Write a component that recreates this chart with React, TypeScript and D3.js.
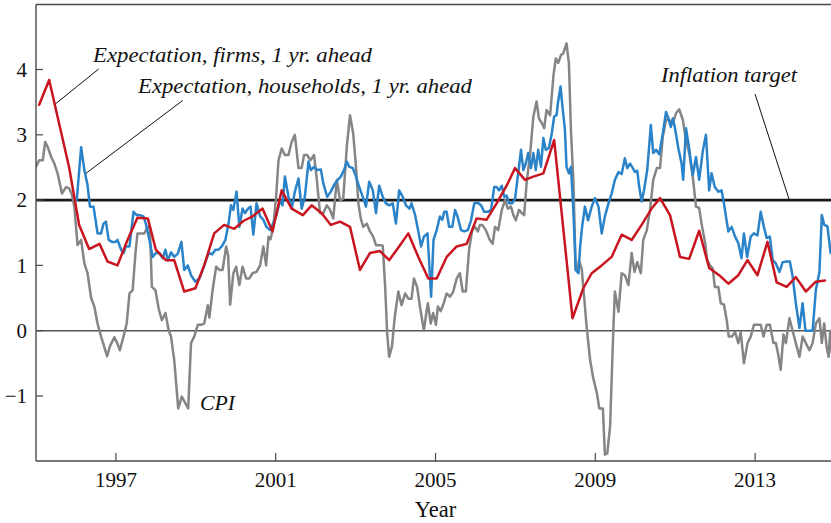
import React from "react";
import * as d3 from "d3";

// CPI inflation (monthly, % y/y) — [year, value]
const cpi: [number, number][] = [
  [1995.0, 2.51], [1995.08, 2.61], [1995.17, 2.61], [1995.23, 2.89], [1995.29, 2.82], [1995.38, 2.66],
  [1995.46, 2.56], [1995.54, 2.41], [1995.65, 2.1], [1995.75, 2.2], [1995.83, 2.18], [1995.9, 2.08],
  [1995.96, 1.9], [1996.04, 1.31], [1996.13, 1.39], [1996.21, 1.03], [1996.29, 0.88], [1996.38, 0.5],
  [1996.46, 0.37], [1996.54, 0.11], [1996.63, -0.09], [1996.78, -0.39], [1996.85, -0.24], [1996.96, -0.1],
  [1997.02, -0.17], [1997.1, -0.3], [1997.19, -0.09], [1997.27, 0.11], [1997.34, 0.57], [1997.42, 0.62],
  [1997.49, 1.19], [1997.54, 1.49], [1997.63, 1.49], [1997.71, 1.49], [1997.8, 1.59], [1997.85, 1.59],
  [1997.9, 0.67], [1997.99, 0.62], [1998.07, 0.34], [1998.15, 0.16], [1998.24, 0.27], [1998.32, 0.01],
  [1998.38, -0.09], [1998.46, -0.45], [1998.56, -1.19], [1998.65, -1.01], [1998.73, -1.1], [1998.81, -1.19],
  [1998.88, -0.19], [1998.96, -0.09], [1999.05, 0.09], [1999.13, 0.09], [1999.21, 0.11], [1999.3, 0.39],
  [1999.34, 0.2], [1999.42, 0.62], [1999.51, 0.98], [1999.59, 0.93], [1999.67, 0.93], [1999.76, 1.29],
  [1999.81, 1.15], [1999.86, 0.4], [1999.94, 0.88], [2000.01, 0.98], [2000.09, 0.7], [2000.17, 0.98],
  [2000.26, 0.8], [2000.34, 0.8], [2000.42, 0.88], [2000.52, 0.9], [2000.61, 1.0], [2000.69, 1.29],
  [2000.76, 1.0], [2000.82, 1.44], [2000.87, 1.4], [2000.94, 1.59], [2001.01, 2.05], [2001.07, 2.61],
  [2001.15, 2.79], [2001.23, 2.69], [2001.32, 2.69], [2001.4, 2.89], [2001.48, 3.0], [2001.57, 2.49],
  [2001.65, 2.49], [2001.71, 2.69], [2001.79, 2.69], [2001.87, 2.61], [2001.96, 2.69], [2002.03, 2.31],
  [2002.11, 1.8], [2002.19, 1.8], [2002.28, 1.92], [2002.36, 1.85], [2002.44, 1.72], [2002.53, 2.31],
  [2002.61, 2.0], [2002.69, 2.02], [2002.78, 2.82], [2002.86, 3.3], [2002.94, 3.02], [2003.01, 2.51],
  [2003.07, 1.95], [2003.13, 1.72], [2003.19, 1.59], [2003.28, 1.64], [2003.36, 1.52], [2003.44, 1.44],
  [2003.51, 1.31], [2003.61, 1.31], [2003.68, 1.3], [2003.74, 0.67], [2003.79, -0.04], [2003.84, -0.4],
  [2003.91, -0.24], [2003.98, 0.21], [2004.07, 0.6], [2004.15, 0.39], [2004.24, 0.57], [2004.32, 0.49],
  [2004.4, 0.49], [2004.46, 0.8], [2004.54, 0.67], [2004.61, 0.37], [2004.71, 0.0], [2004.78, 0.32],
  [2004.81, 0.42], [2004.88, 0.11], [2004.94, 0.27], [2005.01, 0.09], [2005.06, 0.37], [2005.13, 0.3],
  [2005.21, 0.43], [2005.28, 0.57], [2005.36, 0.52], [2005.44, 0.59], [2005.53, 0.8], [2005.61, 0.88],
  [2005.68, 0.6], [2005.76, 0.6], [2005.84, 1.24], [2005.92, 1.54], [2005.99, 1.59], [2006.06, 1.52],
  [2006.11, 1.62], [2006.17, 1.62], [2006.26, 1.54], [2006.36, 1.39], [2006.43, 1.33], [2006.49, 1.59],
  [2006.57, 1.54], [2006.66, 1.85], [2006.74, 2.0], [2006.81, 1.87], [2006.89, 1.9], [2006.95, 1.77],
  [2007.01, 1.69], [2007.09, 1.85], [2007.16, 1.8], [2007.22, 1.77], [2007.28, 2.26], [2007.37, 2.72],
  [2007.45, 3.28], [2007.53, 3.51], [2007.59, 3.25], [2007.66, 3.18], [2007.72, 3.1], [2007.78, 3.38],
  [2007.87, 3.3], [2007.95, 3.89], [2008.01, 4.17], [2008.07, 4.1], [2008.14, 4.22], [2008.2, 4.25],
  [2008.28, 4.4], [2008.34, 4.09], [2008.39, 3.07], [2008.45, 2.31], [2008.51, 0.93], [2008.56, 0.9],
  [2008.59, 1.07], [2008.66, 0.95], [2008.72, 0.52], [2008.78, 0.08], [2008.87, -0.45], [2008.94, -0.7],
  [2009.04, -0.96], [2009.1, -1.19], [2009.19, -1.19], [2009.24, -1.9], [2009.3, -1.88], [2009.37, -1.47],
  [2009.45, 0.0], [2009.49, 0.6], [2009.58, 0.29], [2009.66, 0.88], [2009.74, 0.85], [2009.83, 0.7],
  [2009.91, 1.19], [2009.98, 0.9], [2010.05, 1.05], [2010.14, 0.88], [2010.2, 1.39], [2010.29, 1.54],
  [2010.37, 1.85], [2010.45, 2.31], [2010.54, 2.49], [2010.62, 2.49], [2010.69, 2.97], [2010.77, 3.23],
  [2010.85, 3.23], [2010.94, 3.17], [2011.02, 3.33], [2011.1, 3.39], [2011.19, 3.23], [2011.27, 2.92],
  [2011.35, 2.72], [2011.44, 2.36], [2011.52, 1.9], [2011.6, 1.88], [2011.66, 1.64], [2011.75, 1.34],
  [2011.8, 1.08], [2011.87, 1.0], [2011.94, 0.95], [2011.99, 0.67], [2012.08, 0.67], [2012.14, 0.42],
  [2012.22, 0.4], [2012.29, 0.16], [2012.34, -0.09], [2012.42, -0.09], [2012.5, -0.02], [2012.58, -0.19],
  [2012.64, -0.02], [2012.72, -0.5], [2012.81, -0.19], [2012.89, -0.09], [2012.97, 0.09], [2013.06, 0.09],
  [2013.14, 0.09], [2013.21, -0.09], [2013.29, 0.09], [2013.37, 0.09], [2013.46, -0.19], [2013.52, -0.19],
  [2013.58, -0.37], [2013.64, -0.6], [2013.71, -0.06], [2013.77, -0.19], [2013.86, 0.19], [2013.94, 0.0],
  [2014.02, -0.19], [2014.11, -0.4], [2014.19, -0.09], [2014.27, -0.19], [2014.36, -0.3], [2014.44, -0.19],
  [2014.52, 0.11], [2014.61, 0.19], [2014.67, -0.19], [2014.73, 0.11], [2014.79, -0.25], [2014.84, -0.4],
  [2014.88, 0.0], [2014.92, -0.34],
];

// Households' expected inflation, 1 yr. ahead (monthly)
const households: [number, number][] = [
  [1996.02, 2.0], [1996.13, 2.81], [1996.21, 2.46], [1996.29, 2.23], [1996.35, 1.9], [1996.44, 1.9],
  [1996.49, 1.7], [1996.54, 1.49], [1996.63, 1.49], [1996.69, 1.64], [1996.75, 1.67], [1996.82, 1.39],
  [1996.9, 1.36], [1996.99, 1.36], [1997.04, 1.39], [1997.13, 1.24], [1997.19, 1.19], [1997.25, 1.29],
  [1997.34, 1.29], [1997.44, 1.82], [1997.52, 1.77], [1997.6, 1.77], [1997.69, 1.75], [1997.75, 1.64],
  [1997.84, 1.39], [1997.92, 1.13], [1998.0, 1.19], [1998.09, 1.19], [1998.17, 1.11], [1998.24, 1.24],
  [1998.3, 1.08], [1998.38, 1.2], [1998.46, 1.13], [1998.55, 1.18], [1998.64, 1.36], [1998.71, 0.93],
  [1998.8, 1.0], [1998.88, 0.85], [1998.99, 0.75], [1999.09, 0.8], [1999.17, 0.93], [1999.26, 1.08],
  [1999.32, 1.19], [1999.41, 1.17], [1999.49, 1.24], [1999.57, 1.24], [1999.66, 1.3], [1999.74, 1.39],
  [1999.82, 1.64], [1999.88, 1.92], [1999.94, 1.85], [2000.02, 2.13], [2000.09, 1.59], [2000.17, 1.87],
  [2000.23, 1.8], [2000.31, 1.87], [2000.37, 1.9], [2000.44, 1.47], [2000.52, 1.95], [2000.61, 1.75],
  [2000.69, 1.7], [2000.77, 1.59], [2000.86, 1.54], [2000.94, 1.65], [2001.02, 1.77], [2001.11, 2.0],
  [2001.17, 1.92], [2001.23, 2.36], [2001.32, 2.05], [2001.4, 1.87], [2001.48, 2.13], [2001.57, 2.33],
  [2001.65, 1.87], [2001.73, 2.05], [2001.82, 2.59], [2001.88, 2.46], [2001.96, 2.51], [2002.04, 2.46],
  [2002.13, 2.47], [2002.19, 2.26], [2002.29, 2.05], [2002.38, 2.13], [2002.46, 2.23], [2002.54, 2.3],
  [2002.63, 2.36], [2002.71, 2.46], [2002.78, 2.59], [2002.84, 2.51], [2002.93, 2.49], [2003.01, 2.36],
  [2003.09, 2.2], [2003.18, 2.05], [2003.26, 1.9], [2003.34, 2.28], [2003.43, 2.15], [2003.51, 1.8],
  [2003.59, 2.22], [2003.68, 2.05], [2003.76, 1.95], [2003.84, 1.92], [2003.93, 1.95], [2004.01, 1.64],
  [2004.09, 2.15], [2004.18, 2.05], [2004.26, 1.92], [2004.35, 1.87], [2004.4, 1.95], [2004.49, 1.77],
  [2004.57, 1.52], [2004.64, 1.29], [2004.71, 1.44], [2004.8, 1.49], [2004.89, 0.52], [2004.95, 1.39],
  [2005.03, 1.54], [2005.11, 1.75], [2005.17, 1.7], [2005.22, 1.82], [2005.28, 1.82], [2005.34, 1.59],
  [2005.42, 1.59], [2005.49, 1.85], [2005.55, 1.75], [2005.64, 1.54], [2005.72, 1.52], [2005.81, 1.54],
  [2005.89, 1.69], [2005.97, 1.95], [2006.06, 1.96], [2006.14, 1.92], [2006.22, 1.82], [2006.31, 1.82],
  [2006.39, 1.85], [2006.47, 2.2], [2006.53, 2.2], [2006.59, 2.15], [2006.66, 2.22], [2006.72, 2.05],
  [2006.78, 2.07], [2006.84, 1.95], [2006.92, 1.95], [2006.99, 2.02], [2007.09, 2.51], [2007.14, 2.77],
  [2007.2, 2.46], [2007.26, 2.56], [2007.32, 2.72], [2007.39, 2.49], [2007.45, 2.72], [2007.51, 2.46],
  [2007.57, 2.77], [2007.64, 2.51], [2007.7, 2.95], [2007.76, 2.77], [2007.84, 2.8], [2007.91, 3.02],
  [2007.97, 3.28], [2008.03, 3.3], [2008.07, 3.51], [2008.13, 3.74], [2008.17, 3.48], [2008.24, 3.07],
  [2008.28, 2.51], [2008.34, 2.41], [2008.39, 2.51], [2008.45, 1.85], [2008.51, 0.93], [2008.58, 0.88],
  [2008.62, 1.29], [2008.67, 1.59], [2008.74, 1.9], [2008.82, 1.69], [2008.91, 1.9], [2008.99, 2.03],
  [2009.08, 1.9], [2009.16, 1.49], [2009.24, 1.75], [2009.33, 1.95], [2009.41, 2.1], [2009.49, 2.31],
  [2009.58, 2.43], [2009.66, 2.4], [2009.74, 2.64], [2009.8, 2.49], [2009.87, 2.56], [2009.94, 2.49],
  [2009.99, 2.43], [2010.05, 2.45], [2010.1, 2.2], [2010.16, 1.98], [2010.22, 2.15], [2010.3, 2.46],
  [2010.39, 3.15], [2010.45, 2.72], [2010.52, 2.77], [2010.6, 2.7], [2010.69, 3.02], [2010.77, 3.35],
  [2010.83, 3.25], [2010.89, 3.12], [2010.94, 3.25], [2010.99, 3.12], [2011.08, 2.79], [2011.16, 2.56],
  [2011.2, 2.31], [2011.27, 3.1], [2011.35, 2.79], [2011.44, 2.38], [2011.52, 2.66], [2011.6, 2.31],
  [2011.69, 2.75], [2011.77, 3.0], [2011.85, 2.15], [2011.91, 2.41], [2011.99, 2.2], [2012.08, 2.13],
  [2012.16, 2.15], [2012.22, 1.95], [2012.27, 1.75], [2012.33, 1.52], [2012.41, 1.59], [2012.5, 1.44],
  [2012.58, 1.34], [2012.66, 1.11], [2012.72, 1.49], [2012.8, 1.13], [2012.89, 1.44], [2012.97, 1.49],
  [2013.06, 1.46], [2013.14, 1.82], [2013.22, 1.59], [2013.29, 1.42], [2013.37, 1.44], [2013.44, 1.08],
  [2013.52, 1.03], [2013.61, 0.9], [2013.69, 1.05], [2013.79, 1.06], [2013.87, 1.06], [2013.94, 0.83],
  [2014.02, 0.42], [2014.11, 0.04], [2014.19, 0.42], [2014.26, 0.0], [2014.34, 0.0], [2014.44, 0.0],
  [2014.52, 0.62], [2014.61, 0.9], [2014.67, 1.77], [2014.73, 1.62], [2014.81, 1.6], [2014.89, 1.19],
];

// Firms' expected inflation, 1 yr. ahead (quarterly)
const firms: [number, number][] = [
  [1995.08, 3.46], [1995.33, 3.84], [1995.58, 3.17], [1995.83, 2.5], [1996.08, 1.62], [1996.33, 1.25],
  [1996.59, 1.33], [1996.79, 1.06], [1997.04, 1.0], [1997.29, 1.39], [1997.54, 1.73], [1997.8, 1.72],
  [1998.0, 1.24], [1998.25, 1.08], [1998.46, 1.08], [1998.71, 0.6], [1998.99, 0.65], [1999.21, 1.0],
  [1999.46, 1.49], [1999.71, 1.62], [1999.96, 1.56], [2000.19, 1.68], [2000.42, 1.75], [2000.67, 1.87],
  [2000.92, 1.52], [2001.15, 2.15], [2001.4, 1.87], [2001.68, 1.77], [2001.9, 1.92], [2002.15, 1.8],
  [2002.38, 1.62], [2002.61, 1.67], [2002.86, 1.59], [2003.11, 0.93], [2003.36, 1.19], [2003.61, 1.22],
  [2003.84, 1.08], [2004.09, 1.29], [2004.32, 1.49], [2004.57, 1.13], [2004.82, 0.8], [2005.03, 0.8],
  [2005.28, 1.13], [2005.53, 1.29], [2005.78, 1.33], [2006.03, 1.72], [2006.28, 1.7], [2006.53, 1.95],
  [2006.78, 2.22], [2006.99, 2.49], [2007.24, 2.31], [2007.45, 2.36], [2007.7, 2.41], [2007.97, 2.92],
  [2008.43, 0.19], [2008.7, 0.65], [2008.91, 0.88], [2009.16, 1.0], [2009.41, 1.13], [2009.66, 1.47],
  [2009.91, 1.39], [2010.16, 1.62], [2010.41, 1.87], [2010.62, 2.03], [2010.87, 1.77], [2011.12, 1.13],
  [2011.35, 1.1], [2011.6, 1.53], [2011.85, 0.96], [2012.1, 0.85], [2012.33, 0.72], [2012.58, 0.85],
  [2012.81, 1.08], [2013.06, 0.85], [2013.31, 1.36], [2013.54, 0.74], [2013.79, 0.67], [2014.02, 0.82],
  [2014.27, 0.6], [2014.52, 0.75], [2014.75, 0.77],
];

const yTicks = [-1, 0, 1, 2, 3, 4];
const xTicks = [1997, 2001, 2005, 2009, 2013];
const inflationTarget = 2;

const W = 831;
const H = 523;
const serif = "'Liberation Serif', 'Times New Roman', serif";

export default function App() {
  const left = 36;
  const right = 831;
  const top = 4.5;
  const bottom = 461;
  const x = d3.scaleLinear().domain([1995, 2015]).range([36, 835]);
  const y = d3.scaleLinear().domain([-2, 5]).range([461.3, 4.2]);
  const line = d3
    .line<[number, number]>()
    .x((d) => x(d[0]))
    .y((d) => y(d[1]));

  const axisColor = "#4a4a4a";
  return (
    <svg
      width={W}
      height={H}
      style={{ position: "absolute", left: 0, top: 0, background: "#fff", display: "block" }}
    >
      <defs>
        <clipPath id="plot">
          <rect x={left} y={top} width={right - left} height={bottom - top} />
        </clipPath>
      </defs>
      <rect x={0} y={0} width={W} height={H} fill="#fff" />
      {/* reference lines */}
      <line x1={left} x2={right} y1={y(0)} y2={y(0)} stroke="#555" strokeWidth={1.6} />
      <line
        x1={left}
        x2={right}
        y1={y(inflationTarget)}
        y2={y(inflationTarget)}
        stroke="#1a1a1a"
        strokeWidth={2.6}
      />
      {/* series */}
      <g clipPath="url(#plot)" fill="none" strokeLinejoin="round" strokeLinecap="round">
        <path d={line(cpi) || ""} stroke="#858585" strokeWidth={2.5} />
        <path d={line(households) || ""} stroke="#2a83c8" strokeWidth={2.5} />
        <path d={line(firms) || ""} stroke="#c8151f" strokeWidth={2.5} />
      </g>
      {/* frame */}
      <line x1={left} x2={left} y1={top} y2={bottom} stroke={axisColor} strokeWidth={1.4} />
      <line x1={left} x2={right} y1={top} y2={top} stroke={axisColor} strokeWidth={1.4} />
      <line x1={left} x2={right} y1={bottom} y2={bottom} stroke={axisColor} strokeWidth={1.4} />
      {/* y ticks */}
      {yTicks.map((t) => (
        <g key={t}>
          <line x1={left} x2={left + 7} y1={y(t)} y2={y(t)} stroke={axisColor} strokeWidth={1.2} />
          <text
            x={27}
            y={y(t)}
            dy="0.34em"
            textAnchor="end"
            fontFamily={serif}
            fontSize={21}
            fill="#111"
          >
            {t < 0 ? "\u2212" + Math.abs(t) : String(t)}
          </text>
        </g>
      ))}
      {/* x ticks */}
      {xTicks.map((t) => (
        <g key={t}>
          <line x1={x(t)} x2={x(t)} y1={bottom} y2={bottom - 8} stroke={axisColor} strokeWidth={1.2} />
          <text x={x(t)} y={487} textAnchor="middle" fontFamily={serif} fontSize={21} fill="#111">
            {t}
          </text>
        </g>
      ))}
      <text x={435.5} y={517} textAnchor="middle" fontFamily={serif} fontSize={22.5} fill="#111">
        Year
      </text>
      {/* annotations */}
      <g fontFamily={serif} fontStyle="italic" fontSize={22} fill="#111">
        <text x={93} y={62} textLength={279} lengthAdjust="spacingAndGlyphs">
          Expectation, firms, 1 yr. ahead
        </text>
        <text x={138} y={93} textLength={334} lengthAdjust="spacingAndGlyphs">
          Expectation, households, 1 yr. ahead
        </text>
        <text x={661} y={82} textLength={136} lengthAdjust="spacingAndGlyphs">
          Inflation target
        </text>
        <text x={200} y={410} textLength={35} lengthAdjust="spacingAndGlyphs">
          CPI
        </text>
      </g>
      <g stroke="#111" strokeWidth={1}>
        <line x1={98.7} y1={69} x2={55.3} y2={104} />
        <line x1={182.7} y1={100.5} x2={86} y2={173.3} />
        <line x1={755} y1={94} x2={789.3} y2={200} />
      </g>
    </svg>
  );
}
